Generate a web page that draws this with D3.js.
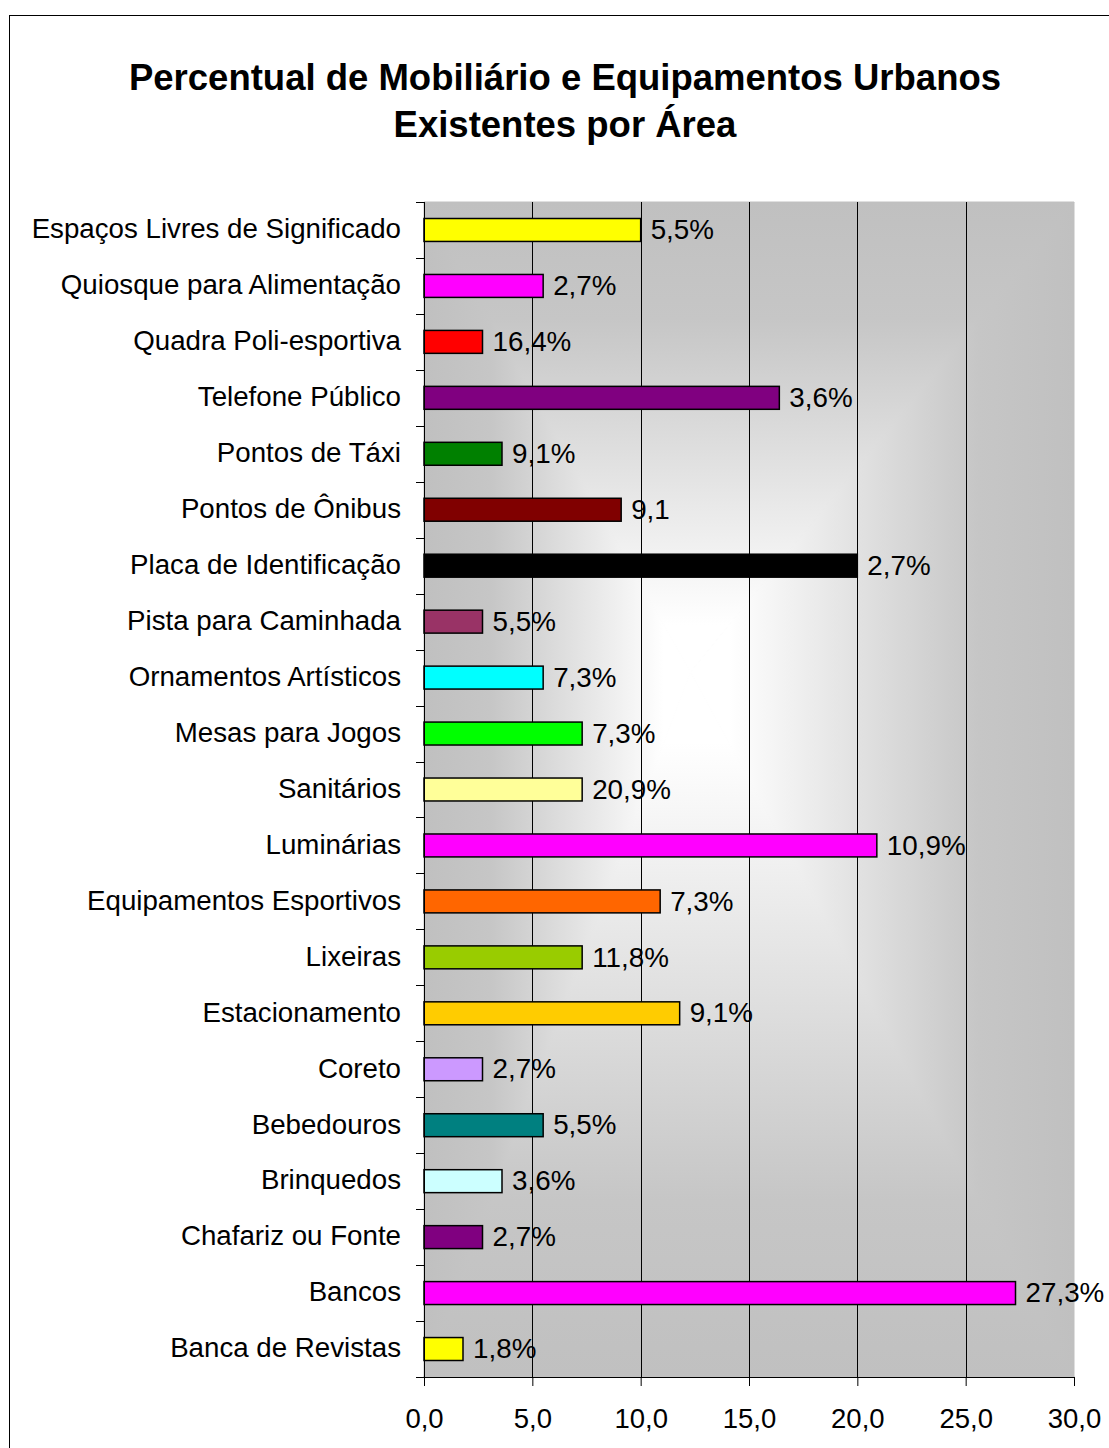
<!DOCTYPE html>
<html>
<head>
<meta charset="utf-8">
<script src="https://cdnjs.cloudflare.com/ajax/libs/d3/7.8.5/d3.min.js"></script>
<style>
  body { margin: 0; background: #fff; }
  text { font-family: "Liberation Sans", Arial, sans-serif; fill: #000; }
</style>
</head>
<body>
<div id="chart"></div>
<script>
// data, top to bottom as drawn
var categories = ["Espaços Livres de Significado", "Quiosque para Alimentação", "Quadra Poli-esportiva",
  "Telefone Público", "Pontos de Táxi", "Pontos de Ônibus", "Placa de Identificação",
  "Pista para Caminhada", "Ornamentos Artísticos", "Mesas para Jogos", "Sanitários",
  "Luminárias", "Equipamentos Esportivos", "Lixeiras", "Estacionamento", "Coreto",
  "Bebedouros", "Brinquedos", "Chafariz ou Fonte", "Bancos", "Banca de Revistas"];
var values = [10.0, 5.5, 2.7, 16.4, 3.6, 9.1, 20.0, 2.7, 5.5, 7.3, 7.3, 20.9, 10.9, 7.3, 11.8,
  2.7, 5.5, 3.6, 2.7, 27.3, 1.8];
// the labels as printed on the chart (they do not line up with the bars)
var valueLabels = ["5,5%", "2,7%", "16,4%", "3,6%", "9,1%", "9,1", "2,7%", "5,5%", "7,3%", "7,3%",
  "20,9%", "10,9%", "7,3%", "11,8%", "9,1%", "2,7%", "5,5%", "3,6%", "2,7%", "27,3%", "1,8%"];
var colors = ["#ffff00", "#ff00ff", "#ff0000", "#800080", "#008000", "#800000", "#000000",
  "#993366", "#00ffff", "#00ff00", "#ffff99", "#ff00ff", "#ff6600", "#99cc00", "#ffcc00",
  "#cc99ff", "#008080", "#ccffff", "#800080", "#ff00ff", "#ffff00"];
var xTicks = [0, 5, 10, 15, 20, 25, 30];

var W = 1109, H = 1448;
var margin = {top: 202, right: 35, bottom: 71, left: 424},
    width = W - margin.left - margin.right,
    height = H - margin.top - margin.bottom;

var svg = d3.select("#chart").append("svg")
    .attr("width", W)
    .attr("height", H);

// outer frame (runs off the right/bottom edge)
svg.append("rect")
  .attr("x", 9.5).attr("y", 15.5)
  .attr("width", W + 20).attr("height", H + 20)
  .attr("fill", "#fff").attr("stroke", "#000").attr("stroke-width", 1);

// title
var title = svg.append("text")
  .attr("x", 565)
  .attr("text-anchor", "middle")
  .style("font-size", "36.5px")
  .style("font-weight", "bold");
title.append("tspan").attr("x", 565).attr("y", 90).text("Percentual de Mobiliário e Equipamentos Urbanos");
title.append("tspan").attr("x", 565).attr("y", 137).text("Existentes por Área");

var g = svg.append("g")
  .attr("transform", "translate(" + margin.left + "," + margin.top + ")");

var x = d3.scaleLinear().domain([0, 30]).range([0, width]);
var y = d3.scaleBand().domain(categories).range([0, height]).paddingInner(0.59).paddingOuter(0.295);

// background: rectangular "from centre" gradient built from 4 triangles
var cx = x(12.3), cy = 470;
var defs = svg.append("defs");
function grad(id, x1, y1, x2, y2) {
  var lg = defs.append("linearGradient").attr("id", id)
    .attr("gradientUnits", "userSpaceOnUse")
    .attr("x1", x1).attr("y1", y1).attr("x2", x2).attr("y2", y2);
  lg.append("stop").attr("offset", 0).attr("stop-color", "#c0c0c0");
  lg.append("stop").attr("offset", 0.25).attr("stop-color", "#c6c6c6");
  lg.append("stop").attr("offset", 0.9).attr("stop-color", "#ffffff");
  lg.append("stop").attr("offset", 1).attr("stop-color", "#ffffff");
}
grad("gTop", 0, 0, 0, cy);
grad("gBot", 0, height, 0, cy);
grad("gLeft", 0, 0, cx, 0);
grad("gRight", width, 0, cx, 0);
var tris = [
  {id: "gTop", pts: [[0, 0], [width, 0], [cx, cy]]},
  {id: "gBot", pts: [[0, height], [width, height], [cx, cy]]},
  {id: "gLeft", pts: [[0, 0], [0, height], [cx, cy]]},
  {id: "gRight", pts: [[width, 0], [width, height], [cx, cy]]}
];
g.append("rect").attr("width", width).attr("height", height).attr("fill", "#c0c0c0");
g.selectAll(".bg").data(tris).enter().append("path")
  .attr("d", function(d) { return "M" + d.pts.join("L") + "Z"; })
  .attr("fill", function(d) { return "url(#" + d.id + ")"; })
  .attr("stroke", function(d) { return "url(#" + d.id + ")"; })
  .attr("stroke-width", 1);

// vertical gridlines
g.selectAll(".grid").data(xTicks.slice(1, -1)).enter().append("line")
  .attr("x1", function(d) { return Math.round(x(d)) + 0.5; })
  .attr("x2", function(d) { return Math.round(x(d)) + 0.5; })
  .attr("y1", 0).attr("y2", height)
  .attr("stroke", "#000").attr("stroke-width", 1);

// bars
g.selectAll(".bar").data(values).enter().append("rect")
  .attr("x", 0)
  .attr("y", function(d, i) { return y(categories[i]); })
  .attr("width", function(d) { return x(d); })
  .attr("height", y.bandwidth())
  .attr("fill", function(d, i) { return colors[i]; })
  .attr("stroke", "#000").attr("stroke-width", 1.5);

// value labels
g.selectAll(".lbl").data(values).enter().append("text")
  .attr("x", function(d) { return x(d) + 10; })
  .attr("y", function(d, i) { return y(categories[i]) + y.bandwidth() / 2; })
  .attr("dy", "0.33em")
  .style("font-size", "27.8px")
  .text(function(d, i) { return valueLabels[i]; });

// y axis: category ticks between bands
var yAxis = g.append("g");
yAxis.append("line").attr("x1", 0.5).attr("x2", 0.5).attr("y1", 0).attr("y2", height)
  .attr("stroke", "#000");
var step = height / categories.length;
yAxis.selectAll(".yt").data(d3.range(categories.length + 1)).enter().append("line")
  .attr("x1", -8).attr("x2", 0)
  .attr("y1", function(i) { return Math.round(i * step) + 0.5; })
  .attr("y2", function(i) { return Math.round(i * step) + 0.5; })
  .attr("stroke", "#000");
yAxis.selectAll(".ylab").data(categories).enter().append("text")
  .attr("x", -23)
  .attr("y", function(d) { return y(d) + y.bandwidth() / 2; })
  .attr("dy", "0.3em")
  .attr("text-anchor", "end")
  .style("font-size", "27.7px")
  .text(function(d) { return d; });

// x axis
var fmt = function(d) { return d3.format(".1f")(d).replace(".", ","); };
var xAxis = g.append("g")
  .attr("transform", "translate(0," + height + ")")
  .call(d3.axisBottom(x).tickValues(xTicks).tickFormat(fmt).tickSize(9).tickPadding(22));
xAxis.select(".domain").attr("stroke", "#000");
xAxis.selectAll("text").style("font-size", "27.5px").attr("fill", "#000")
  .style("font-family", "'Liberation Sans', Arial, sans-serif");
</script>
</body>
</html>
